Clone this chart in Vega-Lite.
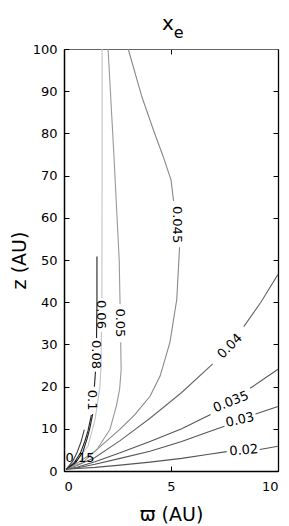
{
  "$schema": "https://vega.github.io/schema/vega-lite/v6.json",
  "width": 214,
  "height": 422,
  "autosize": "none",
  "padding": {"left": 64, "top": 49, "right": 11, "bottom": 55},
  "background": "white",
  "title": {"text": "x\u00a0\u200b", "subtitle": "\u200b\u00a0\u00a0\u00a0e", "font": "DejaVu Sans", "fontSize": 20, "fontWeight": "normal", "color": "#000", "subtitleFont": "DejaVu Sans", "subtitleFontSize": 16, "subtitleColor": "#000", "subtitlePadding": -9, "offset": 2, "anchor": "middle"},
  "config": {
    "view": {"stroke": "#555", "strokeWidth": 1},
    "axis": {"grid": false, "labelFont": "DejaVu Sans", "labelFontSize": 13, "labelColor": "#000", "titleFont": "DejaVu Sans", "titleFontSize": 19, "titleFontWeight": "normal", "titleColor": "#000", "tickColor": "#000", "domainColor": "#000"}
  },
  "datasets": {
    "lines": [
      {"level":"0.02","seg":"0.02a","i":1,"x":0.1,"y":0.4},{"level":"0.02","seg":"0.02a","i":2,"x":0.6,"y":0.6},{"level":"0.02","seg":"0.02a","i":3,"x":1.45,"y":0.85},{"level":"0.02","seg":"0.02a","i":4,"x":2.62,"y":1.4},{"level":"0.02","seg":"0.02a","i":5,"x":4.02,"y":2.1},{"level":"0.02","seg":"0.02a","i":6,"x":5.5,"y":3.0},{"level":"0.02","seg":"0.02a","i":7,"x":6.7,"y":3.9},{"level":"0.02","seg":"0.02a","i":8,"x":7.6,"y":4.6},
      {"level":"0.02","seg":"0.02b","i":9,"x":9.15,"y":5.1},{"level":"0.02","seg":"0.02b","i":10,"x":10,"y":5.85},
      {"level":"0.03","seg":"0.03a","i":11,"x":0.1,"y":0.4},{"level":"0.03","seg":"0.03a","i":12,"x":0.6,"y":0.7},{"level":"0.03","seg":"0.03a","i":13,"x":1.45,"y":1.6},{"level":"0.03","seg":"0.03a","i":14,"x":2.62,"y":3.0},{"level":"0.03","seg":"0.03a","i":15,"x":4.02,"y":4.7},{"level":"0.03","seg":"0.03a","i":16,"x":5.5,"y":7.0},{"level":"0.03","seg":"0.03a","i":17,"x":6.6,"y":9.0},{"level":"0.03","seg":"0.03a","i":18,"x":7.5,"y":10.6},
      {"level":"0.03","seg":"0.03b","i":19,"x":8.95,"y":13.5},{"level":"0.03","seg":"0.03b","i":20,"x":10,"y":15.3},
      {"level":"0.035","seg":"0.035a","i":21,"x":0.1,"y":0.4},{"level":"0.035","seg":"0.035a","i":22,"x":0.6,"y":0.9},{"level":"0.035","seg":"0.035a","i":23,"x":1.45,"y":2.2},{"level":"0.035","seg":"0.035a","i":24,"x":2.62,"y":4.3},{"level":"0.035","seg":"0.035a","i":25,"x":4.02,"y":7.0},{"level":"0.035","seg":"0.035a","i":26,"x":5.5,"y":10.0},{"level":"0.035","seg":"0.035a","i":27,"x":6.85,"y":13.4},
      {"level":"0.035","seg":"0.035b","i":28,"x":8.7,"y":19.6},{"level":"0.035","seg":"0.035b","i":29,"x":10,"y":24.1},
      {"level":"0.04","seg":"0.04a","i":30,"x":0.1,"y":0.4},{"level":"0.04","seg":"0.04a","i":31,"x":0.6,"y":1.3},{"level":"0.04","seg":"0.04a","i":32,"x":1.45,"y":3.2},{"level":"0.04","seg":"0.04a","i":33,"x":2.62,"y":7.2},{"level":"0.04","seg":"0.04a","i":34,"x":4.02,"y":12.5},{"level":"0.04","seg":"0.04a","i":35,"x":5.5,"y":18.6},{"level":"0.04","seg":"0.04a","i":36,"x":6.95,"y":25.4},
      {"level":"0.04","seg":"0.04b","i":37,"x":8.4,"y":34.2},{"level":"0.04","seg":"0.04b","i":38,"x":9.2,"y":40.0},{"level":"0.04","seg":"0.04b","i":39,"x":10,"y":46.6},
      {"level":"0.045","seg":"0.045a","i":40,"x":0.1,"y":0.4},{"level":"0.045","seg":"0.045a","i":41,"x":0.6,"y":1.8},{"level":"0.045","seg":"0.045a","i":42,"x":1.45,"y":4.7},{"level":"0.045","seg":"0.045a","i":43,"x":2.62,"y":9.9},{"level":"0.045","seg":"0.045a","i":44,"x":3.3,"y":13.3},{"level":"0.045","seg":"0.045a","i":45,"x":4.02,"y":17.7},{"level":"0.045","seg":"0.045a","i":46,"x":4.49,"y":22.5},{"level":"0.045","seg":"0.045a","i":47,"x":4.95,"y":30.5},{"level":"0.045","seg":"0.045a","i":48,"x":5.27,"y":40.7},{"level":"0.045","seg":"0.045a","i":49,"x":5.4,"y":53.0},
      {"level":"0.045","seg":"0.045b","i":50,"x":5.12,"y":64.0},{"level":"0.045","seg":"0.045b","i":51,"x":5.0,"y":69.0},{"level":"0.045","seg":"0.045b","i":52,"x":4.63,"y":74.6},{"level":"0.045","seg":"0.045b","i":53,"x":4.2,"y":80.5},{"level":"0.045","seg":"0.045b","i":54,"x":3.65,"y":88.5},{"level":"0.045","seg":"0.045b","i":55,"x":3.0,"y":100},
      {"level":"0.05","seg":"0.05a","i":56,"x":2.06,"y":100},{"level":"0.05","seg":"0.05a","i":57,"x":2.33,"y":75},{"level":"0.05","seg":"0.05a","i":58,"x":2.58,"y":50},{"level":"0.05","seg":"0.05a","i":59,"x":2.62,"y":39.5},
      {"level":"0.05","seg":"0.05b","i":60,"x":2.65,"y":30.5},{"level":"0.05","seg":"0.05b","i":61,"x":2.67,"y":24},{"level":"0.05","seg":"0.05b","i":62,"x":2.6,"y":19.4},{"level":"0.05","seg":"0.05b","i":63,"x":2.45,"y":15.5},{"level":"0.05","seg":"0.05b","i":64,"x":2.15,"y":9.9},{"level":"0.05","seg":"0.05b","i":65,"x":1.54,"y":5.1},{"level":"0.05","seg":"0.05b","i":66,"x":0.89,"y":2.1},{"level":"0.05","seg":"0.05b","i":67,"x":0.1,"y":0.4},
      {"level":"0.06","seg":"0.06a","i":68,"x":1.78,"y":100},{"level":"0.06","seg":"0.06a","i":69,"x":1.78,"y":70},{"level":"0.06","seg":"0.06a","i":70,"x":1.77,"y":41},
      {"level":"0.06","seg":"0.06b","i":71,"x":1.75,"y":33},{"level":"0.06","seg":"0.06b","i":72,"x":1.73,"y":25},{"level":"0.06","seg":"0.06b","i":73,"x":1.68,"y":20},{"level":"0.06","seg":"0.06b","i":74,"x":1.45,"y":12.2},{"level":"0.06","seg":"0.06b","i":75,"x":1.12,"y":5.85},{"level":"0.06","seg":"0.06b","i":76,"x":0.56,"y":2.3},{"level":"0.06","seg":"0.06b","i":77,"x":0.1,"y":0.4},
      {"level":"0.08","seg":"0.08a","i":78,"x":1.54,"y":50.8},{"level":"0.08","seg":"0.08a","i":79,"x":1.54,"y":40},{"level":"0.08","seg":"0.08a","i":80,"x":1.52,"y":31.5},
      {"level":"0.08","seg":"0.08b","i":81,"x":1.47,"y":23.5},{"level":"0.08","seg":"0.08b","i":82,"x":1.42,"y":20.0},
      {"level":"0.08","seg":"0.08c","i":83,"x":1.34,"y":13.5},{"level":"0.08","seg":"0.08c","i":84,"x":1.2,"y":10},{"level":"0.08","seg":"0.08c","i":85,"x":1.07,"y":7.5},{"level":"0.08","seg":"0.08c","i":86,"x":0.88,"y":4.5},{"level":"0.08","seg":"0.08c","i":87,"x":0.55,"y":2.0},{"level":"0.08","seg":"0.08c","i":88,"x":0.1,"y":0.4},
      {"level":"0.1","seg":"0.1a","i":89,"x":1.28,"y":13.3},{"level":"0.1","seg":"0.1a","i":90,"x":1.12,"y":9.5},{"level":"0.1","seg":"0.1a","i":91,"x":0.97,"y":7},{"level":"0.1","seg":"0.1a","i":92,"x":0.77,"y":4.3},{"level":"0.1","seg":"0.1a","i":93,"x":0.47,"y":1.9},{"level":"0.1","seg":"0.1a","i":94,"x":0.1,"y":0.4},
      {"level":"0.15","seg":"0.15a","i":95,"x":0.95,"y":9.8},{"level":"0.15","seg":"0.15a","i":96,"x":0.8,"y":7},{"level":"0.15","seg":"0.15a","i":97,"x":0.62,"y":4.5},{"level":"0.15","seg":"0.15a","i":98,"x":0.42,"y":2.4},{"level":"0.15","seg":"0.15a","i":99,"x":0.1,"y":0.4}
    ],
    "labels": [
      {"label":"0.045","x":5.28,"y":58.4},
      {"label":"0.05","x":2.63,"y":35.1},
      {"label":"0.06","x":1.74,"y":37.1},
      {"label":"0.08","x":1.5,"y":27.6},
      {"label":"0.1","x":1.33,"y":16.8},
      {"label":"0.15","x":0.75,"y":3.0},
      {"label":"0.04","x":7.75,"y":29.6},
      {"label":"0.035","x":7.8,"y":16.4},
      {"label":"0.03","x":8.22,"y":12.1},
      {"label":"0.02","x":8.4,"y":4.9}
    ]
  },
  "layer": [
    {
      "data": {"name": "lines"},
      "mark": {"type": "line", "strokeWidth": 1.1},
      "encoding": {
        "x": {"field": "x", "type": "quantitative", "scale": {"domain": [0, 10], "nice": false, "zero": false},
              "axis": {"orient": "bottom", "values": [0, 5, 10], "tickSize": -5, "labelPadding": 14, "title": "ϖ (AU)", "titlePadding": 12, "domainWidth": 1.5}},
        "y": {"field": "y", "type": "quantitative", "scale": {"domain": [0, 100], "nice": false, "zero": false},
              "axis": {"orient": "left", "values": [0, 10, 20, 30, 40, 50, 60, 70, 80, 90, 100], "tickSize": -5, "labelPadding": 12, "title": "z (AU)", "titlePadding": 3, "domainWidth": 1.5}},
        "detail": {"field": "seg"},
        "order": {"field": "i"},
        "color": {"field": "level", "type": "nominal", "legend": null,
                  "scale": {"domain": ["0.02", "0.03", "0.035", "0.04", "0.045", "0.05", "0.06", "0.08", "0.1", "0.15"],
                            "range": ["#555555", "#555555", "#555555", "#666666", "#888888", "#999999", "#c4c4c4", "#222222", "#222222", "#444444"]}}
      }
    },
    {
      "data": {"name": "labels"},
      "transform": [{"filter": "indexof(['0.045','0.05','0.06','0.08','0.1'], datum.label) >= 0"}],
      "mark": {"type": "text", "angle": 90, "font": "DejaVu Sans", "fontSize": 13, "color": "#000"},
      "encoding": {
        "x": {"field": "x", "type": "quantitative", "axis": {"orient": "top", "values": [5], "tickSize": -5, "labels": false, "title": null, "domainColor": "#666"}},
        "y": {"field": "y", "type": "quantitative", "axis": {"orient": "right", "values": [10, 20, 30, 40, 50, 60, 70, 80, 90], "tickSize": -5, "labels": false, "title": null, "domainWidth": 1.3}},
        "text": {"field": "label"}
      }
    },
    {
      "data": {"name": "labels"},
      "transform": [{"filter": "datum.label == '0.15'"}],
      "mark": {"type": "text", "angle": 0, "font": "DejaVu Sans", "fontSize": 13, "color": "#000"},
      "encoding": {"x": {"field": "x", "type": "quantitative", "axis": null}, "y": {"field": "y", "type": "quantitative", "axis": null}, "text": {"field": "label"}}
    },
    {
      "data": {"name": "labels"},
      "transform": [{"filter": "datum.label == '0.04'"}],
      "mark": {"type": "text", "angle": -45, "font": "DejaVu Sans", "fontSize": 13, "color": "#000"},
      "encoding": {"x": {"field": "x", "type": "quantitative", "axis": null}, "y": {"field": "y", "type": "quantitative", "axis": null}, "text": {"field": "label"}}
    },
    {
      "data": {"name": "labels"},
      "transform": [{"filter": "datum.label == '0.035'"}],
      "mark": {"type": "text", "angle": -22, "font": "DejaVu Sans", "fontSize": 13, "color": "#000"},
      "encoding": {"x": {"field": "x", "type": "quantitative", "axis": null}, "y": {"field": "y", "type": "quantitative", "axis": null}, "text": {"field": "label"}}
    },
    {
      "data": {"name": "labels"},
      "transform": [{"filter": "datum.label == '0.03'"}],
      "mark": {"type": "text", "angle": -13, "font": "DejaVu Sans", "fontSize": 13, "color": "#000"},
      "encoding": {"x": {"field": "x", "type": "quantitative", "axis": null}, "y": {"field": "y", "type": "quantitative", "axis": null}, "text": {"field": "label"}}
    },
    {
      "data": {"name": "labels"},
      "transform": [{"filter": "datum.label == '0.02'"}],
      "mark": {"type": "text", "angle": -5, "font": "DejaVu Sans", "fontSize": 13, "color": "#000"},
      "encoding": {"x": {"field": "x", "type": "quantitative", "axis": null}, "y": {"field": "y", "type": "quantitative", "axis": null}, "text": {"field": "label"}}
    }
  ],
  "resolve": {"axis": {"x": "independent", "y": "independent"}}
}
